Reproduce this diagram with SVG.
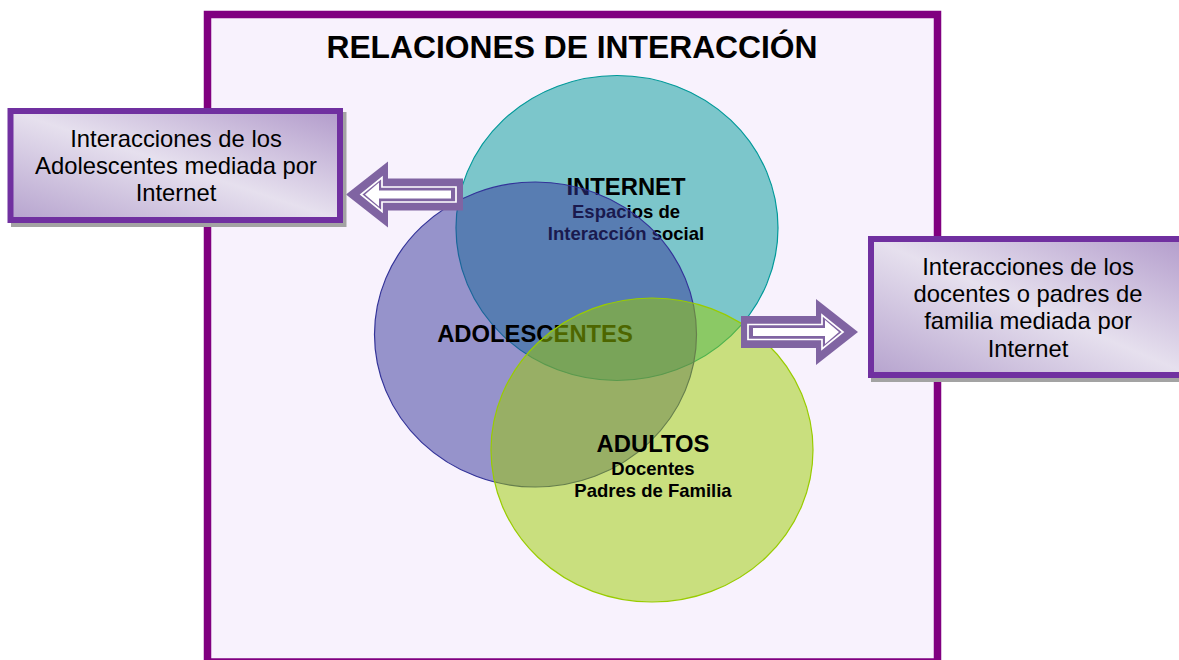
<svg xmlns="http://www.w3.org/2000/svg" width="1179" height="660" viewBox="0 0 1179 660">
<style>
text{font-family:"Liberation Sans",Arial,sans-serif;fill:#000;text-anchor:middle}
.title{font-size:31.8px;font-weight:bold}
.head{font-size:23.8px;font-weight:bold}
.sub{font-size:18.5px;font-weight:bold}
.box{font-size:23.8px}
.boxrect{fill:url(#boxg);stroke:#7030A0;stroke-width:6}
.shadow{fill:#A3A3A3}
.arr-out{fill:#8064A2}
.arr-line{fill:none;stroke:#fff;stroke-width:1.7;stroke-linejoin:miter}
.arr-in{fill:#fff}
</style>
<defs>
<linearGradient id="boxg" x1="1" y1="0" x2="0" y2="1">
<stop offset="0" stop-color="#B29BCB"/>
<stop offset="0.5" stop-color="#E6E0EE"/>
<stop offset="1" stop-color="#B6A3CE"/>
</linearGradient>
<g id="arrow">
<polygon class="arr-out" points="0,-16 75,-16 75,-33 117,0 75,33 75,16 0,16"/>
<polygon class="arr-line" points="7,-7.5 81,-7.5 81,-17 102,0 81,17 81,7.5 7,7.5"/>
<polygon class="arr-in" points="12,-4 84,-4 84,-12 98,0 84,12 84,4 12,4"/>
</g>
</defs>
<rect width="1179" height="660" fill="#fff"/>
<g id="frame">
<rect x="207.5" y="14.5" width="730" height="647.5" fill="#F8F2FD" stroke="#800080" stroke-width="7.5"/>
<text class="title" x="572" y="57.5">RELACIONES DE INTERACCIÓN</text>
</g>
<g id="internet">
<ellipse cx="617" cy="228" rx="161" ry="152.5" fill="#009999" fill-opacity="0.5" stroke="#009999" stroke-width="1.2"/>
<text class="head" x="626" y="195">INTERNET</text>
<text class="sub" x="626" y="217.5">Espacios de</text>
<text class="sub" x="626" y="239.5">Interacción social</text>
</g>
<g id="adolescentes">
<ellipse cx="535.5" cy="334.5" rx="161" ry="152.5" fill="#333399" fill-opacity="0.5" stroke="#333399" stroke-width="1.2"/>
<text class="head" x="535" y="342">ADOLESCENTES</text>
</g>
<g id="adultos">
<ellipse cx="652" cy="450" rx="161" ry="152" fill="#99CC00" fill-opacity="0.5" stroke="#99CC00" stroke-width="1.2"/>
<text class="head" x="653" y="452">ADULTOS</text>
<text class="sub" x="653" y="475">Docentes</text>
<text class="sub" x="653" y="497">Padres de Familia</text>
</g>
<g id="connectors">
<use href="#arrow" transform="translate(463,194.5) scale(-1,1)"/>
<use href="#arrow" transform="translate(741,332)"/>
</g>
<g id="box-adolescentes">
<rect class="shadow" x="11" y="112" width="335.5" height="115"/>
<rect class="boxrect" x="10.5" y="111" width="329.5" height="109"/>
<text class="box" x="176" y="147">Interacciones de los</text>
<text class="box" x="176" y="174">Adolescentes mediada por</text>
<text class="box" x="176" y="201">Internet</text>
</g>
<g id="box-adultos">
<rect class="shadow" x="871" y="240" width="320" height="142"/>
<rect class="boxrect" x="871" y="239" width="320" height="136"/>
<text class="box" x="1028" y="274.5">Interacciones de los</text>
<text class="box" x="1028" y="302">docentes o padres de</text>
<text class="box" x="1028" y="329">familia mediada por</text>
<text class="box" x="1028" y="356.5">Internet</text>
</g>
</svg>
